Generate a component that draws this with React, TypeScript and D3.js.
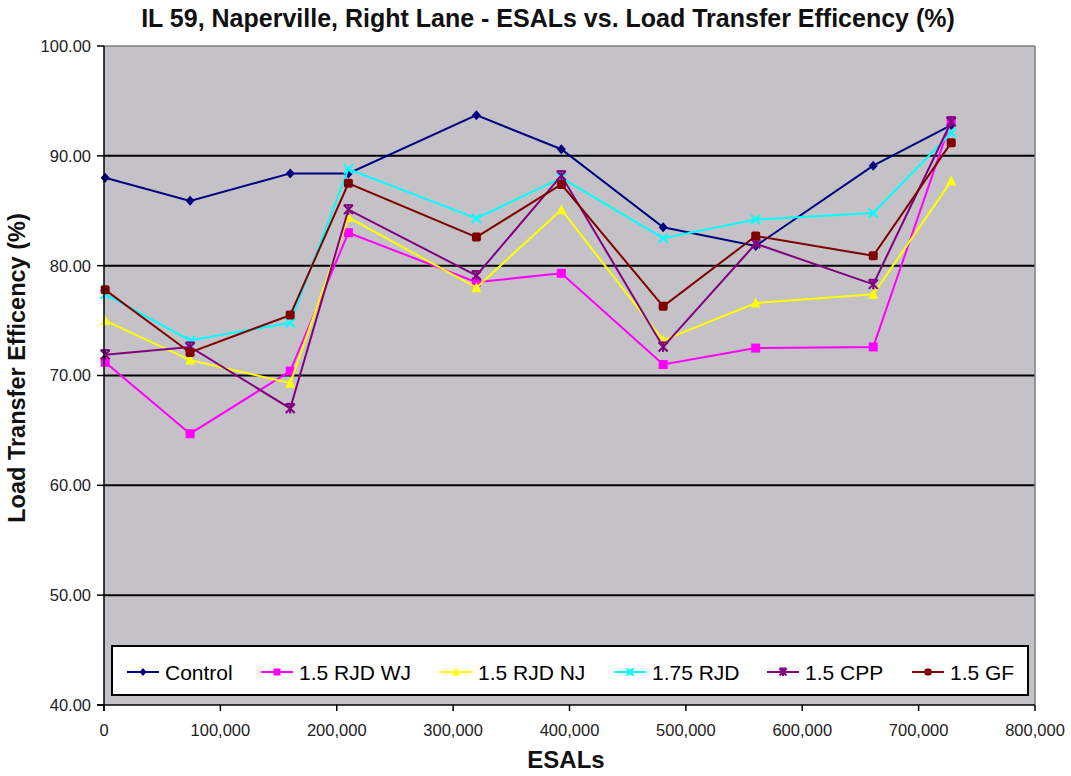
import React from "react";
import * as d3 from "d3";

const title = "IL 59, Naperville, Right Lane - ESALs vs. Load Transfer Efficency (%)";
const xTitle = "ESALs";
const yTitle = "Load Transfer Efficency (%)";

const esals = [1000, 74000, 160000, 210000, 320000, 393000, 480500, 560000, 661000, 728000];

const control = [88.0, 85.9, 88.4, 88.4, 93.7, 90.6, 83.5, 81.8, 89.1, 92.8];
const rjdWJ = [71.2, 64.7, 70.4, 83.0, 78.5, 79.3, 71.0, 72.5, 72.6, 93.2];
const rjdNJ = [75.0, 71.4, 69.3, 84.4, 78.0, 85.1, 73.2, 76.6, 77.4, 87.7];
const rjd175 = [77.4, 73.2, 74.8, 88.8, 84.3, 88.0, 82.5, 84.2, 84.8, 92.1];
const cpp = [71.9, 72.6, 67.0, 85.1, 79.1, 88.2, 72.6, 82.0, 78.3, 93.1];
const gf = [77.8, 72.1, 75.5, 87.5, 82.6, 87.4, 76.3, 82.7, 80.9, 91.2];

const seriesNames = ["Control", "1.5 RJD WJ", "1.5 RJD NJ", "1.75 RJD", "1.5 CPP", "1.5 GF"];
const seriesValues = [control, rjdWJ, rjdNJ, rjd175, cpp, gf];
const seriesColors = ["#000080", "#FF00FF", "#FFFF00", "#00FFFF", "#800080", "#800000"];
const seriesMarkers = ["diamond", "square", "triangle", "x", "star", "circle"];

const xTicks = [0, 100000, 200000, 300000, 400000, 500000, 600000, 700000, 800000];
const yTicks = [40, 50, 60, 70, 80, 90, 100];
const gridValues = [50, 60, 70, 80, 90];

const legendLineX = [127, 261, 440, 614, 767, 912];

const FONT = "Arial, 'Liberation Sans', sans-serif";

function Marker({ type, x, y, color, s }: { type: string; x: number; y: number; color: string; s: number }) {
  const h = s / 2;
  switch (type) {
    case "diamond":
      return <polygon points={`${x},${y - h - 0.5} ${x + h},${y} ${x},${y + h + 0.5} ${x - h},${y}`} fill={color} />;
    case "square":
      return <rect x={x - h} y={y - h} width={s} height={s} fill={color} />;
    case "triangle":
      return <polygon points={`${x},${y - h - 1} ${x + h + 0.5},${y + h} ${x - h - 0.5},${y + h}`} fill={color} />;
    case "x":
      return (
        <g stroke={color} strokeWidth={2}>
          <line x1={x - h} y1={y - h} x2={x + h} y2={y + h} />
          <line x1={x - h} y1={y + h} x2={x + h} y2={y - h} />
        </g>
      );
    case "star":
      return (
        <g stroke={color} strokeWidth={2}>
          <line x1={x - h} y1={y - h} x2={x + h} y2={y + h} />
          <line x1={x - h} y1={y + h} x2={x + h} y2={y - h} />
          <line x1={x} y1={y - h - 0.5} x2={x} y2={y + h + 0.5} />
          <line x1={x - h} y1={y - h} x2={x + h} y2={y - h} />
        </g>
      );
    default:
      return <rect x={x - h} y={y - h} width={s} height={s} rx={2} fill={color} />;
  }
}

export default function App() {
  const W = 1071;
  const H = 776;
  const left = 104,
    right = 1035,
    top = 46,
    bottom = 705;
  const x = d3.scaleLinear().domain([0, 800000]).range([left, right]);
  const y = d3.scaleLinear().domain([40, 100]).range([bottom, top]);
  const line = d3
    .line<number>()
    .x((_, i) => x(esals[i]))
    .y((d) => y(d));
  const fmt = d3.format(",");

  return (
    <svg width={W} height={H} style={{ position: "absolute", left: 0, top: 0, background: "#fff" }}>
      <rect x={0} y={0} width={W} height={H} fill="#fff" />
      <rect x={left} y={top} width={right - left} height={bottom - top} fill="#C4C2C6" />
      {/* gridlines */}
      {gridValues.map((v) => (
        <line key={v} x1={left} x2={right} y1={y(v)} y2={y(v)} stroke="#000" strokeWidth={2} />
      ))}
      {/* plot border top/right */}
      <line x1={left} x2={right} y1={top} y2={top} stroke="#808080" strokeWidth={1.5} />
      <line x1={right} x2={right} y1={top} y2={bottom} stroke="#808080" strokeWidth={1.5} />
      {/* series */}
      {seriesValues.map((vals, si) => (
        <g key={si}>
          <path d={line(vals) || ""} fill="none" stroke={seriesColors[si]} strokeWidth={2} />
          {vals.map((v, i) => (
            <Marker key={i} type={seriesMarkers[si]} x={x(esals[i])} y={y(v)} color={seriesColors[si]} s={9} />
          ))}
        </g>
      ))}
      {/* legend */}
      <rect x={112} y={646} width={916} height={49} fill="#fff" stroke="#000" strokeWidth={2} />
      {seriesNames.map((name, i) => {
        const lx = legendLineX[i];
        return (
          <g key={name}>
            <line x1={lx} x2={lx + 32} y1={672} y2={672} stroke={seriesColors[i]} strokeWidth={2} />
            <Marker type={seriesMarkers[i]} x={lx + 16} y={672} color={seriesColors[i]} s={7} />
            <text x={lx + 38} y={672} dy="0.36em" fontFamily={FONT} fontSize={21} fill="#000">
              {name}
            </text>
          </g>
        );
      })}
      {/* axes */}
      <line x1={left} x2={left} y1={top} y2={bottom + 6} stroke="#000" strokeWidth={1.5} />
      <line x1={left - 7} x2={right} y1={bottom} y2={bottom} stroke="#000" strokeWidth={1.5} />
      {yTicks.map((v) => (
        <g key={v}>
          <line x1={left - 7} x2={left} y1={y(v)} y2={y(v)} stroke="#000" strokeWidth={1.5} />
          <text x={91} y={y(v)} dy="0.36em" textAnchor="end" fontFamily={FONT} fontSize={16.5} fill="#222">
            {v.toFixed(2)}
          </text>
        </g>
      ))}
      {xTicks.map((v) => (
        <g key={v}>
          <line x1={x(v)} x2={x(v)} y1={bottom} y2={bottom + 6} stroke="#000" strokeWidth={1.5} />
          <text x={x(v)} y={736} textAnchor="middle" fontFamily={FONT} fontSize={16.5} fill="#222">
            {fmt(v)}
          </text>
        </g>
      ))}
      {/* titles */}
      <text x={548} y={27} textAnchor="middle" fontFamily={FONT} fontSize={25} fontWeight="bold" fill="#111">
        {title}
      </text>
      <text x={566} y={768} textAnchor="middle" fontFamily={FONT} fontSize={24} fontWeight="bold" fill="#111">
        {xTitle}
      </text>
      <text
        transform="translate(25,368) rotate(-90)"
        textAnchor="middle"
        fontFamily={FONT}
        fontSize={23.5}
        fontWeight="bold"
        fill="#111"
      >
        {yTitle}
      </text>
    </svg>
  );
}
